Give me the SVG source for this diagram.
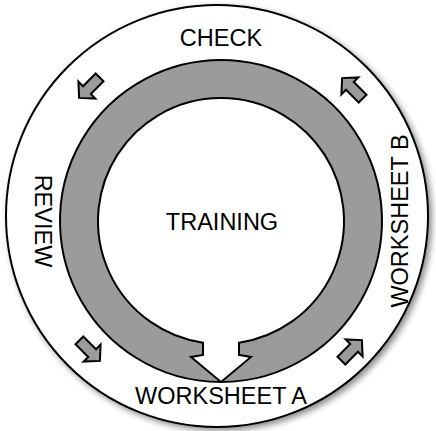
<svg xmlns="http://www.w3.org/2000/svg" width="436" height="431" viewBox="0 0 436 431">
<style>
.lbl{font-family:"Liberation Sans",Arial,sans-serif;font-size:23.5px;fill:#000;text-anchor:middle}
.ring{fill:#9b9b9b;stroke:#000;stroke-width:2;stroke-linejoin:miter}
.arr{fill:#9b9b9b;stroke:#000;stroke-width:2;stroke-linejoin:miter}
</style>
<defs>
<filter id="sh" x="-10%" y="-10%" width="120%" height="120%">
<feGaussianBlur in="SourceAlpha" stdDeviation="3"/>
<feOffset dx="3" dy="3" result="b"/>
<feComponentTransfer><feFuncA type="linear" slope="0.45"/></feComponentTransfer>
<feMerge><feMergeNode/><feMergeNode in="SourceGraphic"/></feMerge>
</filter>
<path id="blk" d="M -15,-5.5 L 3,-5.5 L 3,-12 L 14,0 L 3,12 L 3,5.5 L -15,5.5 Z"/>
</defs>
<rect width="436" height="431" fill="#fff"/>
<g id="outer">
<circle cx="217" cy="216" r="211" fill="#fff" stroke="#000" stroke-width="2" filter="url(#sh)"/>
</g>
<g id="training">
<path class="ring" fill-rule="evenodd" d="M 221,60 A 161,161 0 1 1 220.99,60 Z M 203,342.7 A 123,123 0 1 1 239,342.7 L 239,355 L 251,357 L 221,382 L 191,357 L 203,355 Z"/>
<text class="lbl" x="222" y="230">TRAINING</text>
</g>
<g id="check"><text class="lbl" x="221" y="46">CHECK</text></g>
<g id="review"><text class="lbl" transform="translate(35,221) rotate(90)">REVIEW</text></g>
<g id="worksheet-a"><text class="lbl" x="221" y="404">WORKSHEET A</text></g>
<g id="worksheet-b"><text class="lbl" transform="translate(408,221) rotate(-90)">WORKSHEET B</text></g>
<g id="connectors">
<use href="#blk" class="arr" transform="translate(89,88) rotate(135)"/>
<use href="#blk" class="arr" transform="translate(352,88) rotate(-135)"/>
<use href="#blk" class="arr" transform="translate(90,351) rotate(45)"/>
<use href="#blk" class="arr" transform="translate(352,350) rotate(-45)"/>
</g>
</svg>
